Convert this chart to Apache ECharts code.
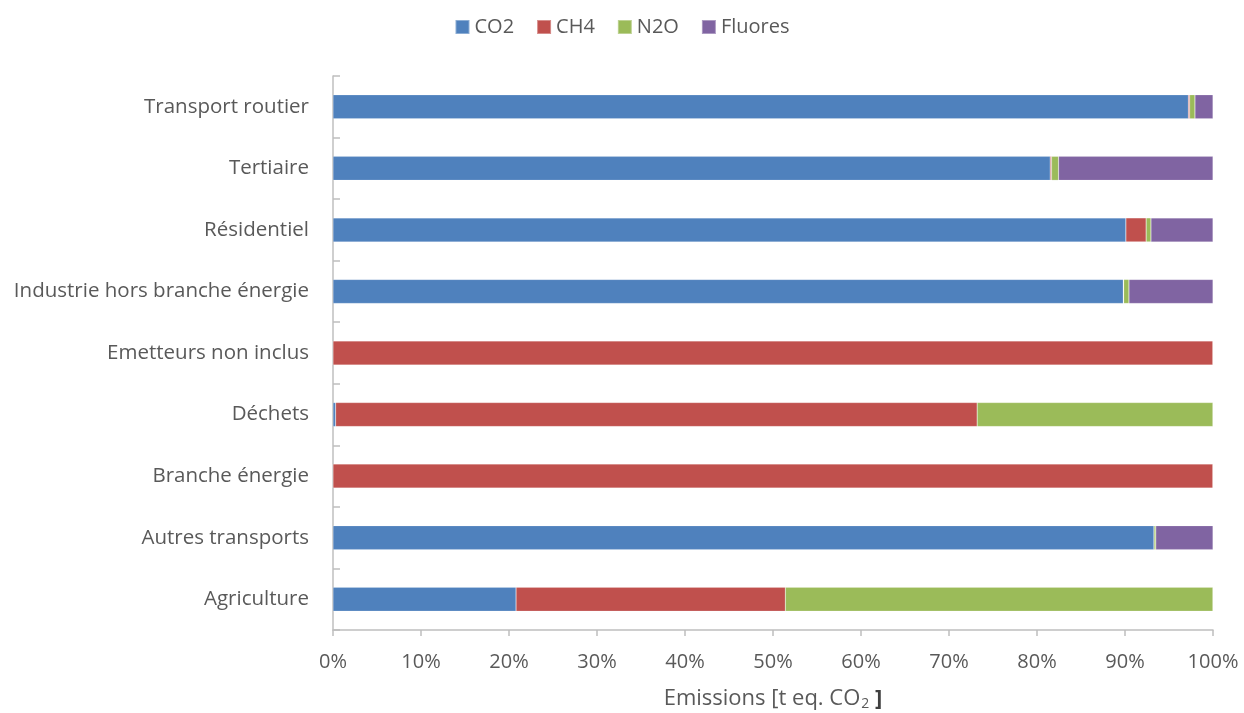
<!DOCTYPE html>
<html>
<head>
<meta charset="utf-8">
<script src="https://cdn.jsdelivr.net/npm/echarts@6/dist/echarts.min.js"></script>
<style>
  html, body { margin: 0; padding: 0; background: #fff; }
  #chart { width: 1244px; height: 713px; }
</style>
</head>
<body>
<div id="chart"></div>
<script>
// secteurs, du haut vers le bas
var sectors = ['Transport routier', 'Tertiaire', 'Résidentiel', 'Industrie hors branche énergie',
    'Emetteurs non inclus', 'Déchets', 'Branche énergie', 'Autres transports', 'Agriculture'];

// parts en % des émissions
var co2     = [97.2, 81.5, 90.1, 89.8, 0,   0.3,  0,   93.3, 20.8];
var ch4     = [0.15, 0.15, 2.3,  0.05, 100, 72.9, 100, 0,    30.6];
var n2o     = [0.6,  0.8,  0.55, 0.6,  0,   26.8, 0,   0.2,  48.6];
var fluores = [2.05, 17.55, 7.05, 9.55, 0,  0,    0,   6.5,  0];

var seriesNames = ['CO2', 'CH4', 'N2O', 'Fluores'];
var seriesData = [co2, ch4, n2o, fluores];
var colors = ['#4F81BD', '#C0504D', '#9BBB59', '#8064A2'];

var chart = echarts.init(document.getElementById('chart'));
var font = '"Open Sans", "Noto Sans", sans-serif';

chart.setOption({
    animation: false,
    textStyle: { fontFamily: font },
    color: colors,
    legend: {
        top: 12,
        left: 'center',
        itemWidth: 14,
        itemHeight: 14,
        itemGap: 22,
        icon: 'rect',
        textStyle: { fontSize: 20, color: '#595959', fontFamily: font },
        data: seriesNames
    },
    grid: {
        left: 333,
        right: 31,
        top: 76,
        bottom: 83,
        containLabel: false,
        outerBoundsMode: 'none'
    },
    xAxis: {
        type: 'value',
        min: 0,
        max: 100,
        interval: 10,
        splitLine: { show: false },
        axisLine: { show: true, lineStyle: { color: '#BFBFBF', width: 1.5 } },
        axisTick: { show: true, length: 6, lineStyle: { color: '#BFBFBF', width: 1.5 } },
        axisLabel: {
            formatter: '{value}%',
            fontSize: 20,
            color: '#595959',
            margin: 22,
            fontFamily: font
        },
        name: '{a|Emissions [t eq. CO}{s|2}{b| ]}',
        nameLocation: 'middle',
        nameGap: 56,
        nameTextStyle: {
            rich: {
                a: { fontSize: 22, color: '#595959', fontFamily: font },
                s: { fontSize: 14, color: '#595959', fontFamily: font, padding: [11, 0, 0, 1] },
                b: { fontSize: 22, color: '#404040', fontWeight: 'bold', fontFamily: font }
            }
        }
    },
    yAxis: {
        type: 'category',
        inverse: true,
        data: sectors,
        axisLine: { show: true, lineStyle: { color: '#BFBFBF', width: 1.5 } },
        axisTick: { show: true, inside: true, length: 7, alignWithLabel: false, lineStyle: { color: '#BFBFBF', width: 1.5 } },
        axisLabel: { fontSize: 20.5, color: '#595959', margin: 24, fontFamily: font }
    },
    series: seriesNames.map(function (name, i) {
        return {
            name: name,
            type: 'bar',
            stack: 'total',
            barWidth: '39%',
            data: seriesData[i],
            itemStyle: { color: colors[i], borderColor: 'rgba(255,255,255,0.35)', borderWidth: 0.5 }
        };
    })
});
</script>
</body>
</html>
